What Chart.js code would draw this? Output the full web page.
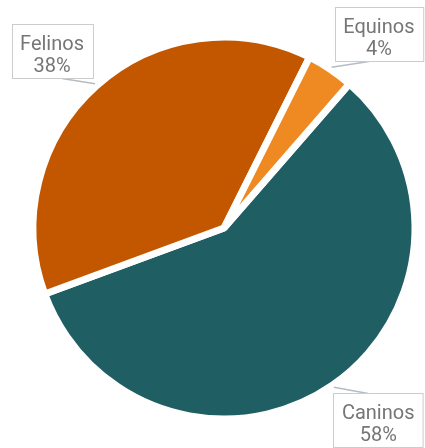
<!DOCTYPE html>
<html>
<head>
<meta charset="utf-8">
<script src="https://cdn.jsdelivr.net/npm/chart.js@4/dist/chart.umd.min.js"></script>
<style>
    html, body { margin: 0; padding: 0; background: #fff; }
    #wrap { width: 425px; height: 448px; position: relative; }
</style>
</head>
<body>
<div id="wrap"><canvas id="pie"></canvas></div>
<script>
// Data
const categories = ['Caninos', 'Felinos', 'Equinos'];
const shares = [58, 38, 4];
const sliceColors = ['#1f5e62', '#c35700', '#ef8a22'];

// Boxed callout labels with a short leader line to each slice
const calloutPlugin = {
    id: 'callouts',
    afterDatasetsDraw(chart, args, opts) {
        const ctx = chart.ctx;
        const meta = chart.getDatasetMeta(0);
        const W = chart.width, H = chart.height;
        ctx.save();
        ctx.font = opts.font;
        ctx.textAlign = 'center';
        ctx.textBaseline = 'alphabetic';

        meta.data.forEach((arc, i) => {
            const r = arc.outerRadius - opts.border / 2;
            const mid = (arc.startAngle + arc.endAngle) / 2;
            const dx = Math.cos(mid), dy = Math.sin(mid);
            const lines = [categories[i], shares[i] + '%'];
            const tw = Math.max(...lines.map(l => ctx.measureText(l).width));
            const bw = tw + 2 * opts.padX;
            const bh = opts.boxH;

            // box centre: out along the slice middle, nudged, kept on canvas
            const nudge = opts.nudge[i] || [0, 0];
            let cx = arc.x + dx * (r + opts.distance) + nudge[0];
            let cy = arc.y + dy * (r + opts.distance) + nudge[1];
            cx = Math.min(Math.max(cx, bw / 2 + 2), W - bw / 2 - 2);
            cy = Math.min(Math.max(cy, bh / 2 + 2), H - bh / 2 - 1);
            const left = Math.round(cx - bw / 2) + 0.5;
            const top = Math.round(cy - bh / 2) + 0.5;

            // leader line
            const ax = arc.x + dx * (r + 6);
            const ay = arc.y + dy * (r + 6);
            const ex = cx + Math.sign(ax - cx) * 10;
            const ey = ay > cy ? top + bh : top;
            ctx.strokeStyle = opts.lineColor;
            ctx.lineWidth = 1.5;
            ctx.beginPath();
            ctx.moveTo(ax, ay);
            ctx.lineTo(ex, ey);
            ctx.stroke();

            // box
            ctx.fillStyle = '#ffffff';
            ctx.fillRect(left, top, bw, bh);
            ctx.strokeStyle = opts.boxColor;
            ctx.lineWidth = 1;
            ctx.strokeRect(left, top, bw, bh);

            // text
            ctx.fillStyle = opts.color;
            ctx.fillText(lines[0], cx, top + 25.5);
            ctx.fillText(lines[1], cx, top + 47);
        });
        ctx.restore();
    }
};

new Chart(document.getElementById('pie'), {
    type: 'pie',
    data: {
        labels: categories,
        datasets: [{
            data: shares,
            backgroundColor: sliceColors,
            borderColor: '#ffffff',
            borderWidth: 7
        }]
    },
    options: {
        responsive: true,
        maintainAspectRatio: false,
        animation: false,
        rotation: 41,
        layout: { padding: { left: 29.5, right: 6.5, top: 33.5, bottom: 25.5 } },
        plugins: {
            legend: { display: false },
            tooltip: { enabled: false },
            callouts: {
                font: '20px Roboto',
                color: '#767676',
                boxColor: '#cccccc',
                lineColor: '#b4bcc4',
                border: 7,
                padX: 8.5,
                boxH: 54,
                distance: 60,
                nudge: [[18, -12], [-7, 7.5], [18, 12]]
            }
        }
    },
    plugins: [calloutPlugin]
});
</script>
</body>
</html>
